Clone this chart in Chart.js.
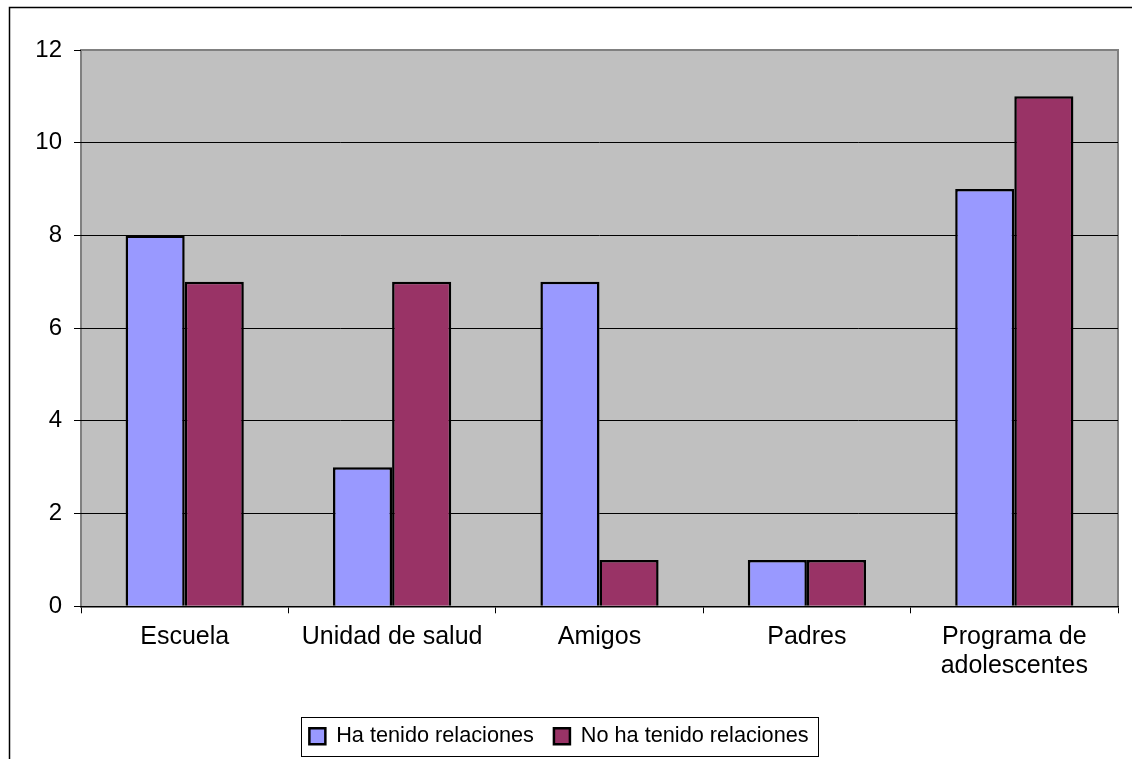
<!DOCTYPE html>
<html>
<head>
<meta charset="utf-8">
<script src="https://cdn.jsdelivr.net/npm/chart.js@4/dist/chart.umd.min.js"></script>
<style>
  html, body { margin: 0; padding: 0; background: #fff; }
  #wrap { width: 1132px; height: 759px; position: relative; }
</style>
</head>
<body>
<div id="wrap"><canvas id="c" width="1132" height="759"></canvas></div>
<script>
// Categories and series
const categories = ['Escuela', 'Unidad de salud', 'Amigos', 'Padres', ['Programa de', 'adolescentes']];
const seriesNames = ['Ha tenido relaciones', 'No ha tenido relaciones'];
const haTenido = [8, 3, 7, 1, 9];
const noHaTenido = [7, 7, 1, 1, 11];
const yTicks = [0, 2, 4, 6, 8, 10, 12];

const FONT = "'Liberation Sans', Arial, sans-serif";

// Grey plot background, plot frame, outer chart frame and legend box
const framePlugin = {
  id: 'frames',
  beforeDraw(chart) {
    const ctx = chart.ctx;
    const a = chart.chartArea;
    ctx.save();
    ctx.fillStyle = '#fff';
    ctx.fillRect(0, 0, chart.width, chart.height);
    // outer chart border
    ctx.strokeStyle = '#000';
    ctx.lineWidth = 1.5;
    ctx.strokeRect(9.5, 7.5, chart.width + 20, chart.height + 20);
    // plot area
    ctx.fillStyle = '#C0C0C0';
    ctx.fillRect(a.left, a.top, a.right - a.left, a.bottom - a.top);
    ctx.strokeStyle = '#808080';
    ctx.lineWidth = 2;
    ctx.beginPath();
    ctx.moveTo(a.left, a.bottom);
    ctx.lineTo(a.left, a.top);
    ctx.lineTo(a.right, a.top);
    ctx.lineTo(a.right, a.bottom);
    ctx.stroke();
    ctx.restore();
  },
  afterDraw(chart) {
    const lg = chart.legend;
    if (!lg || !lg.legendHitBoxes || !lg.legendHitBoxes.length) return;
    const hb = lg.legendHitBoxes;
    const first = hb[0], last = hb[hb.length - 1];
    const cy = first.top + first.height / 2;
    const ctx = chart.ctx;
    ctx.save();
    ctx.strokeStyle = '#000';
    ctx.lineWidth = 1;
    const l = Math.round(first.left - 8) + 0.5;
    const r = Math.round(last.left + last.width + 9) + 0.5;
    const t = Math.round(cy - 19.5) + 0.5;
    const b = Math.round(cy + 19.5) + 0.5;
    ctx.strokeRect(l, t, r - l, b - t);
    ctx.restore();
  }
};

new Chart(document.getElementById('c'), {
  type: 'bar',
  data: {
    labels: categories,
    datasets: [
      { label: seriesNames[0], data: haTenido, backgroundColor: '#9999FF', borderColor: '#000', borderWidth: 2.5,
        categoryPercentage: 0.57, barPercentage: 1.0 },
      { label: seriesNames[1], data: noHaTenido, backgroundColor: '#993366', borderColor: '#000', borderWidth: 2.5,
        categoryPercentage: 0.57, barPercentage: 1.0 }
    ]
  },
  options: {
    responsive: false,
    animation: false,
    devicePixelRatio: 1,
    layout: { padding: { top: 50, right: 14, bottom: 2, left: 0 } },
    plugins: {
      title: { display: false },
      tooltip: { enabled: false },
      legend: {
        position: 'bottom',
        labels: {
          font: { family: FONT, size: 21.7 },
          color: '#000',
          boxWidth: 16,
          boxHeight: 16,
          padding: 20
        }
      }
    },
    scales: {
      x: {
        grid: { drawOnChartArea: false, drawTicks: true, tickLength: 7, tickColor: '#000', offset: true },
        border: { color: '#000', width: 1.5 },
        ticks: { font: { family: FONT, size: 25, lineHeight: 1.16 }, color: '#000', padding: 9, maxRotation: 0, autoSkip: false },
        afterFit(scale) { scale.height = 99; }
      },
      y: {
        min: 0, max: 12,
        afterBuildTicks(scale) { scale.ticks = yTicks.map(v => ({ value: v })); },
        grid: {
          color: ctx => (ctx.tick && ctx.tick.value === 12) ? 'rgba(0,0,0,0)' : '#000',
          lineWidth: 1,
          drawTicks: true, tickLength: 7, tickColor: '#000'
        },
        border: { display: false },
        ticks: { font: { family: FONT, size: 24 }, color: '#000', padding: 12 },
        afterFit(scale) { scale.width = 81; }
      }
    }
  },
  plugins: [framePlugin]
});
</script>
</body>
</html>
